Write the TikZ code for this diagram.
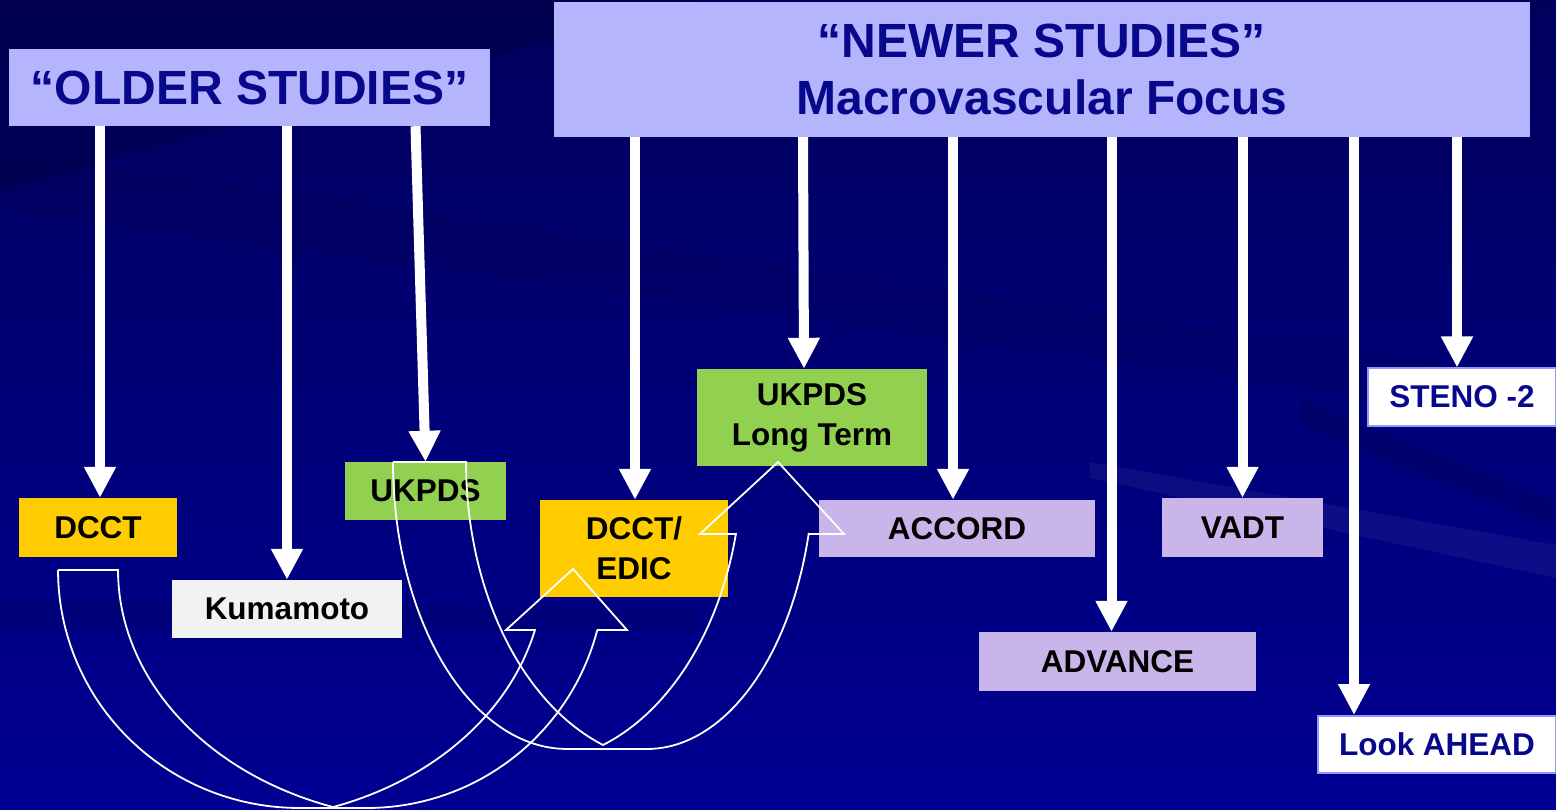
\documentclass[tikz,border=0pt]{standalone}
\usepackage{fontspec}
\setmainfont{Liberation Sans}
\usetikzlibrary{arrows.meta}
\definecolor{titlefill}{RGB}{181,181,253}
\definecolor{titletext}{RGB}{8,8,140}
\definecolor{yel}{RGB}{255,204,0}
\definecolor{grn}{RGB}{146,208,80}
\definecolor{lav}{RGB}{201,181,234}
\definecolor{kum}{RGB}{242,242,242}
\definecolor{bgtop}{RGB}{0,0,92}
\definecolor{bgmid}{RGB}{0,0,136}
\definecolor{bgbot}{RGB}{0,0,146}
\definecolor{wbord}{RGB}{150,150,250}
\begin{document}
\begin{tikzpicture}[x=1pt,y=-1pt,
  titlebox/.style={fill=titlefill, inner sep=0pt, text=titletext, align=center,
    font=\fontsize{48}{57}\selectfont\bfseries},
  stud/.style={inner sep=0pt, align=center, text=black,
    font=\fontsize{31.5}{40}\selectfont\bfseries},
  wstud/.style={stud, fill=white, draw=wbord, line width=2pt, text=titletext},
  bigarrow/.style={draw=white, line width=10pt, -{Triangle[width=30pt,length=31pt]}},
  curvearrow/.style={draw=white, line width=1.8pt, line join=miter}
]
\useasboundingbox (0,0) rectangle (1556,810);
% background
\shade[top color=bgtop, middle color=bgmid, bottom color=bgbot] (0,0) rectangle (1556,810);
\fill[black, opacity=0.14] (0,0) -- (700,0) -- (0,190) -- cycle;
\fill[black, opacity=0.06] (0,150) -- (1556,380) -- (1556,420) -- (0,210) -- cycle;
\fill[black, opacity=0.10] (1300,400) -- (1556,500) -- (1556,530) -- (1300,425) -- cycle;
\fill[white, opacity=0.05] (1090,462) -- (1556,545) -- (1556,578) -- (1090,478) -- cycle;
\fill[black, opacity=0.08] (0,600) -- (700,608) -- (700,632) -- (0,628) -- cycle;

% title boxes
\node[titlebox, minimum width=481pt, minimum height=77pt] (older) at (249.5,87.5) {“OLDER STUDIES”};
\node[titlebox, minimum width=976pt, minimum height=135pt] (newer) at (1042,69.5) {“NEWER STUDIES”\\Macrovascular Focus};

% study boxes
\node[stud, fill=yel, minimum width=158pt, minimum height=59pt] (dcct) at (98,527.5) {DCCT};
\node[stud, fill=kum, minimum width=230pt, minimum height=58pt] (kuma) at (287,609) {Kumamoto};
\node[stud, fill=grn, minimum width=161pt, minimum height=58pt] (ukpds) at (425.5,491) {UKPDS};
\node[stud, fill=yel, minimum width=188pt, minimum height=97pt] (edic) at (634,548.5) {DCCT/\\EDIC};
\node[stud, fill=grn, minimum width=230pt, minimum height=97pt] (ukpdslt) at (812,417.5) {UKPDS\\Long Term};
\node[stud, fill=lav, minimum width=276pt, minimum height=57pt] (accord) at (957,528.5) {ACCORD};
\node[stud, fill=lav, minimum width=161pt, minimum height=59pt] (vadt) at (1242.5,527.5) {VADT};
\node[stud, fill=lav, minimum width=277pt, minimum height=59pt] (advance) at (1117.5,661.5) {ADVANCE};
\node[wstud, minimum width=188pt, minimum height=57pt] (steno) at (1462,397) {STENO -2};
\node[wstud, minimum width=238pt, minimum height=57pt] (look) at (1437,744.5) {Look AHEAD};

% straight arrows
\draw[bigarrow] ([xshift=2pt]dcct.north |- older.south) -- ([xshift=2pt]dcct.north);
\draw[bigarrow] (kuma.north |- older.south) -- (kuma.north);
\draw[bigarrow] ([xshift=-10pt]ukpds.north |- older.south) -- (ukpds.north);
\draw[bigarrow] ([xshift=1pt]edic.north |- newer.south) -- ([xshift=1pt]edic.north);
\draw[bigarrow] ([xshift=-9pt]ukpdslt.north |- newer.south) -- ([xshift=-8pt]ukpdslt.north);
\draw[bigarrow] ([xshift=-4pt]accord.north |- newer.south) -- ([xshift=-4pt]accord.north);
\draw[bigarrow] ([xshift=-6pt]advance.north |- newer.south) -- ([xshift=-6pt]advance.north);
\draw[bigarrow] (vadt.north |- newer.south) -- (vadt.north);
\draw[bigarrow] ([xshift=-83pt]look.north |- newer.south) -- ([xshift=-83pt]look.north);
\draw[bigarrow] ([xshift=-5pt]steno.north |- newer.south) -- ([xshift=-5pt]steno.north);

% curved arrow DCCT -> DCCT/EDIC
\draw[curvearrow] (58,570) -- (118,570)
  -- plot[domain=180:108.5, samples=40] ({433+315*cos(\x)},{570+250*sin(\x)})
  -- plot[domain=71.5:13.9, samples=40] ({235+309*cos(\x)},{570+250*sin(\x)})
  -- (506,630) -- (573,569) -- (627,630) -- (597,630)
  -- plot[domain=14.6:90, samples=40] ({367+238*cos(\x)},{570+238*sin(\x)})
  -- (299,808)
  -- plot[domain=90:180, samples=40] ({299+241*cos(\x)},{570+238*sin(\x)})
  -- cycle;

% curved arrow UKPDS -> UKPDS Long Term
\draw[curvearrow] (393,462) -- (466,462)
  -- plot[domain=180:109.4, samples=40] ({671+205*cos(\x)},{462+300*sin(\x)})
  -- plot[domain=70.6:13.9, samples=40] ({534+208*cos(\x)},{462+300*sin(\x)})
  -- (700,534) -- (778,462) -- (844,534) -- (809,534)
  -- plot[domain=14.5:90, samples=40] ({647+167*cos(\x)},{462+287*sin(\x)})
  -- (567,749)
  -- plot[domain=90:180, samples=40] ({567+174*cos(\x)},{462+287*sin(\x)})
  -- cycle;
\end{tikzpicture}
\end{document}
